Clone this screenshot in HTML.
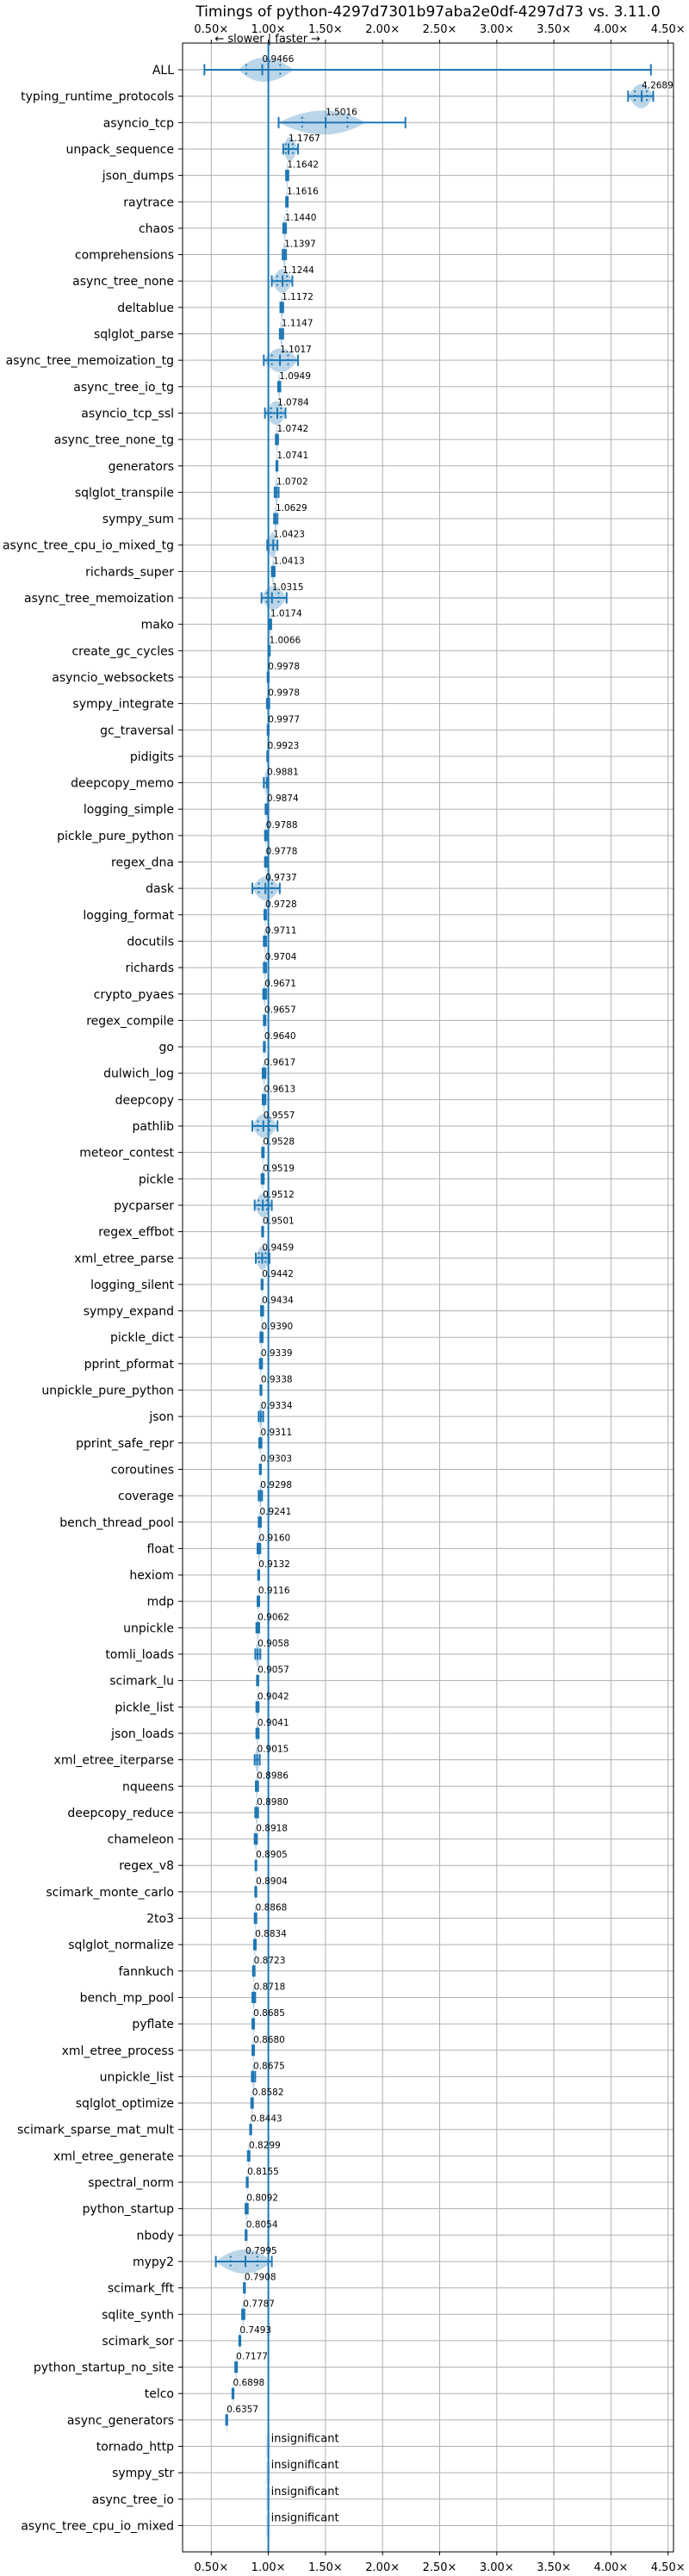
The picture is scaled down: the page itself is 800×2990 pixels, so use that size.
<!DOCTYPE html>
<html><head><meta charset="utf-8">
<style>
html,body{margin:0;padding:0;background:#fff;}
svg{display:block;font-family:"DejaVu Sans","Liberation Sans",sans-serif;}
</style></head>
<body>
<svg id="chart" width="800" height="2990" viewBox="0 0 800 2990" xmlns="http://www.w3.org/2000/svg">
<text x="497" y="19" font-size="17" text-anchor="middle" fill="#000">Timings of python-4297d7301b97aba2e0df-4297d73 vs. 3.11.0</text>
<text x="310.7" y="49" font-size="13" text-anchor="middle" fill="#000">← slower | faster →</text>
<g id="grid"></g>
<g id="marks"></g>
<g id="axes"></g>
</svg>
<script>
const names = ["ALL","typing_runtime_protocols","asyncio_tcp","unpack_sequence","json_dumps","raytrace","chaos","comprehensions","async_tree_none","deltablue","sqlglot_parse","async_tree_memoization_tg","async_tree_io_tg","asyncio_tcp_ssl","async_tree_none_tg","generators","sqlglot_transpile","sympy_sum","async_tree_cpu_io_mixed_tg","richards_super","async_tree_memoization","mako","create_gc_cycles","asyncio_websockets","sympy_integrate","gc_traversal","pidigits","deepcopy_memo","logging_simple","pickle_pure_python","regex_dna","dask","logging_format","docutils","richards","crypto_pyaes","regex_compile","go","dulwich_log","deepcopy","pathlib","meteor_contest","pickle","pycparser","regex_effbot","xml_etree_parse","logging_silent","sympy_expand","pickle_dict","pprint_pformat","unpickle_pure_python","json","pprint_safe_repr","coroutines","coverage","bench_thread_pool","float","hexiom","mdp","unpickle","tomli_loads","scimark_lu","pickle_list","json_loads","xml_etree_iterparse","nqueens","deepcopy_reduce","chameleon","regex_v8","scimark_monte_carlo","2to3","sqlglot_normalize","fannkuch","bench_mp_pool","pyflate","xml_etree_process","unpickle_list","sqlglot_optimize","scimark_sparse_mat_mult","xml_etree_generate","spectral_norm","python_startup","nbody","mypy2","scimark_fft","sqlite_synth","scimark_sor","python_startup_no_site","telco","async_generators","tornado_http","sympy_str","async_tree_io","async_tree_cpu_io_mixed"];
const medians = [0.9466,4.2689,1.5016,1.1767,1.1642,1.1616,1.1440,1.1397,1.1244,1.1172,1.1147,1.1017,1.0949,1.0784,1.0742,1.0741,1.0702,1.0629,1.0423,1.0413,1.0315,1.0174,1.0066,0.9978,0.9978,0.9977,0.9923,0.9881,0.9874,0.9788,0.9778,0.9737,0.9728,0.9711,0.9704,0.9671,0.9657,0.9640,0.9617,0.9613,0.9557,0.9528,0.9519,0.9512,0.9501,0.9459,0.9442,0.9434,0.9390,0.9339,0.9338,0.9334,0.9311,0.9303,0.9298,0.9241,0.9160,0.9132,0.9116,0.9062,0.9058,0.9057,0.9042,0.9041,0.9015,0.8986,0.8980,0.8918,0.8905,0.8904,0.8868,0.8834,0.8723,0.8718,0.8685,0.8680,0.8675,0.8582,0.8443,0.8299,0.8155,0.8092,0.8054,0.7995,0.7908,0.7787,0.7493,0.7177,0.6898,0.6357,1,1,1,1];
const lows = [0.44,4.15,1.09,1.13,1.155,1.155,1.13,1.125,1.03,1.105,1.10,0.96,1.085,0.97,1.065,1.07,1.055,1.05,0.99,1.03,0.94,1.01,1.0,0.993,0.987,0.993,0.99,0.96,0.975,0.97,0.97,0.86,0.965,0.96,0.96,0.955,0.96,0.96,0.95,0.95,0.86,0.945,0.94,0.88,0.945,0.89,0.94,0.935,0.93,0.925,0.93,0.915,0.92,0.925,0.915,0.915,0.905,0.91,0.905,0.895,0.885,0.90,0.895,0.895,0.88,0.89,0.885,0.88,0.887,0.885,0.88,0.875,0.865,0.86,0.86,0.86,0.855,0.85,0.84,0.82,0.81,0.80,0.80,0.54,0.785,0.77,0.745,0.71,0.685,0.63,1,1,1,1];
const highs = [4.35,4.37,2.2,1.26,1.175,1.17,1.155,1.155,1.21,1.13,1.13,1.26,1.105,1.15,1.085,1.08,1.09,1.08,1.08,1.055,1.16,1.025,1.013,1.003,1.008,1.003,0.995,1.0,0.995,0.985,0.985,1.10,0.98,0.98,0.98,0.98,0.975,0.97,0.975,0.975,1.08,0.96,0.96,1.03,0.955,1.01,0.95,0.955,0.95,0.945,0.94,0.955,0.94,0.935,0.945,0.935,0.93,0.92,0.92,0.92,0.93,0.912,0.915,0.915,0.925,0.91,0.91,0.90,0.895,0.895,0.895,0.89,0.88,0.885,0.875,0.875,0.885,0.865,0.85,0.835,0.82,0.82,0.81,1.03,0.795,0.79,0.755,0.725,0.695,0.64,1,1,1,1];
// violin (density) extent overrides where the distribution is much narrower than min..max
const violinLowOverride = {0:0.74, 2:1.09};
const violinHighOverride = {0:1.22, 2:1.85};
const significant = names.map((n,i)=>i<90);
const xTicks = [0.5,1.0,1.5,2.0,2.5,3.0,3.5,4.0,4.5];
const xTickLabels = ["0.50×","1.00×","1.50×","2.00×","2.50×","3.00×","3.50×","4.00×","4.50×"];

const NS="http://www.w3.org/2000/svg";
const L=212,R=782,T=50,B=2962;
const xScale=v=>245.3+(v-0.5)*132.6;
const yScale=i=>81+i*30.65;
const BLUE="#1f77b4";
function mk(tag,parent,attrs){const e=document.createElementNS(NS,tag);for(const k in attrs)e.setAttribute(k,attrs[k]);parent.appendChild(e);return e;}
const grid=document.getElementById('grid'),marks=document.getElementById('marks'),axes=document.getElementById('axes');

xTicks.forEach((t,k)=>{
  const x=xScale(t);
  const g=mk('line',grid,{x1:x,x2:x,y1:T,y2:B,stroke:'#b0b0b0','stroke-width':1});
  
  
  [[T,T-4,38],[B,B+4,2984]].forEach(([y0,y1,ty],j)=>{
    mk('line',axes,{x1:x,x2:x,y1:y0,y2:y1,stroke:'#000','stroke-width':1});
    const tx=mk('text',axes,{x:x,y:ty,'font-size':13,'text-anchor':'middle',fill:'#000'});
    tx.textContent=xTickLabels[k];
    
    
  });
});
names.forEach((n,i)=>{
  const y=yScale(i);
  const g=mk('line',grid,{x1:L,x2:R,y1:y,y2:y,stroke:'#b0b0b0','stroke-width':1});
  
  
  mk('line',axes,{x1:L-5,x2:L,y1:y,y2:y,stroke:'#000','stroke-width':1});
  const tx=mk('text',axes,{x:L-10,y:y+5,'font-size':14,'text-anchor':'end',fill:'#000'});
  tx.textContent=n;
  
  
});

const base=mk('line',marks,{x1:xScale(1),x2:xScale(1),y1:T,y2:B,stroke:BLUE,'stroke-width':2});



names.forEach((n,i)=>{
  const y=yScale(i);
  const g=mk('g',marks,{});
  
  
  if(!significant[i]){
    mk('rect',g,{x:xScale(1)-3,y:y-13,width:5,height:26,fill:BLUE,'fill-opacity':0.15});
    const t=mk('text',g,{x:xScale(1)+3,y:y-5,'font-size':13,fill:'#000'});
    t.textContent='insignificant';
    
    
    return;
  }
  const lo=xScale(lows[i]),hi=xScale(highs[i]),md=xScale(medians[i]);
  const vlo=xScale(i in violinLowOverride?violinLowOverride[i]:lows[i]);
  const vhi=xScale(i in violinHighOverride?violinHighOverride[i]:highs[i]);
  const wide=hi-lo>12;
  const h=wide?14:15;
  const v=mk('path',g,{d:`M${vlo},${y} Q${md},${y-2*h} ${vhi},${y} Q${md},${y+2*h} ${vlo},${y}Z`,fill:BLUE,'fill-opacity':0.3});
  
  
  mk('line',g,{x1:lo,x2:hi,y1:y,y2:y,stroke:BLUE,'stroke-width':2});
  [lo,hi,md].forEach(x=>mk('line',g,{x1:x,x2:x,y1:y-6.5,y2:y+6.5,stroke:BLUE,'stroke-width':2}));
  if(wide){
    const q1=md-(Math.min(md-lo,md-vlo+10))*0.5,q3=md+(Math.min(hi-md,vhi-md+10))*0.45;
    [q1,q3].forEach(x=>mk('line',g,{x1:x,x2:x,y1:y-6.5,y2:y+6.5,stroke:BLUE,'stroke-width':2,'stroke-dasharray':'2,3'}));
  }
  const t=mk('text',g,{x:md,y:y-9,'font-size':10.5,fill:'#000'});
  t.textContent=medians[i].toFixed(4);
  
  
});
const frame=mk('rect',axes,{x:L,y:T,width:R-L,height:B-T,fill:'none',stroke:'#000','stroke-width':1});


</script>
</body></html>
